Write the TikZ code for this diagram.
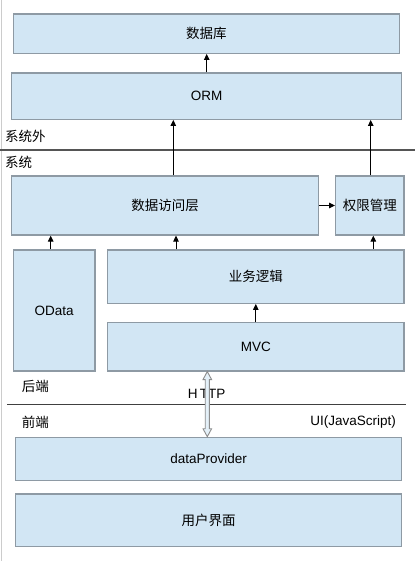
\documentclass[tikz,border=0pt]{standalone}
\usepackage{fontspec}
\setmainfont{Liberation Sans}
\newfontfamily\cjk{Noto Sans CJK SC}
\usetikzlibrary{arrows.meta,calc}
\definecolor{boxfill}{HTML}{D2E6F4}
\definecolor{boxline}{HTML}{8E9AA4}
\definecolor{sepline}{HTML}{555555}
\begin{document}
\begin{tikzpicture}[x=1pt,y=-1pt,
  box/.style={draw=boxline, line width=1.2pt, fill=boxfill, inner sep=0pt,
    font=\fontsize{13.5}{16}\selectfont},
  lbl/.style={inner sep=0pt, font=\fontsize{13.5}{16}\selectfont},
  arr/.style={-{Triangle[length=6pt,width=5.5pt]}, line width=1pt, black}]
\useasboundingbox (0,0) rectangle (415,561);
\fill[white] (0,0) rectangle (415,561);
\draw[black!20, line width=1pt] (1.5,0) -- (1.5,561);

% boxes
\node[box, minimum width=386pt, minimum height=39.3pt] (db) at (206.3,33.7) {\cjk 数据库};
\node[box, minimum width=390pt, minimum height=46.3pt] (orm) at (206.7,96.2) {ORM};
\node[box, minimum width=306.6pt, minimum height=59pt] (dal) at (165,205.5) {\cjk 数据访问层};
\node[box, minimum width=68.3pt, minimum height=59pt] (auth) at (369.8,205.5) {\cjk 权限管理};
\node[box, minimum width=81.7pt, minimum height=121pt] (odata) at (54.2,310.5) {OData};
\node[box, minimum width=296.3pt, minimum height=53.3pt] (biz) at (255.8,276.7) {\cjk 业务逻辑};
\node[box, minimum width=296.3pt, minimum height=48.3pt] (mvc) at (255.8,346.8) {MVC};
\node[box, minimum width=386pt, minimum height=43.4pt] (dp) at (208.7,459) {dataProvider};
\node[box, minimum width=386pt, minimum height=52.7pt] (ui) at (208.7,520.3) {\cjk 用户界面};

% separators
\draw[sepline, line width=2pt] (0,150) -- (415,150);
\draw[black!75, line width=1pt] (7,404) -- (406,404);

% labels
\node[lbl, anchor=west] (outside) at (5,136) {\cjk 系统外};
\node[lbl, anchor=west] (inside) at (5,162.7) {\cjk 系统};
\node[lbl, anchor=west] (backend) at (21.7,386) {\cjk 后端};
\node[lbl, anchor=west] (frontend) at (21.7,422.7) {\cjk 前端};
\node[lbl, anchor=east] (uijs) at (396,421.7) {UI(JavaScript)};
\node[lbl] (http) at (206.7,394.3) {H\,TTP};

% arrows
\draw[arr] (orm.north) -- (orm.north |- db.south);
\draw[arr] (173.3,0 |- dal.north) -- (173.3,0 |- orm.south);
\draw[arr] (370.7,0 |- auth.north) -- (370.7,0 |- orm.south);
\draw[arr] (dal.east) -- (auth.west);
\draw[arr] (50.7,0 |- odata.north) -- (50.7,0 |- dal.south);
\draw[arr] (176,0 |- biz.north) -- (176,0 |- dal.south);
\draw[arr] (373.3,0 |- biz.north) -- (373.3,0 |- auth.south);
\draw[arr] (mvc.north) -- (mvc.north |- biz.south);

% HTTP double arrow
\coordinate (htop) at (207.3,0 |- mvc.south);
\coordinate (hbot) at (207.3,0 |- dp.north);
\draw[black!45, fill=boxfill!60!white, line width=0.9pt, line join=miter]
  (htop) -- ++(4.3,8) -- ++(-2.2,0) -- ($(hbot)+(2.1,-8)$) -- ++(2.2,0) -- (hbot)
  -- ++(-4.3,-8) -- ++(2.2,0) -- ($(htop)+(-2.1,8)$) -- ++(-2.2,0) -- cycle;
\end{tikzpicture}
\end{document}
